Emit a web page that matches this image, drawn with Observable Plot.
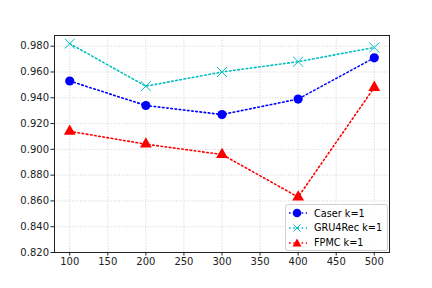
<!DOCTYPE html>
<html><head>
<meta charset="utf-8">
<script src="https://cdn.jsdelivr.net/npm/d3@7"></script>
<script src="https://cdn.jsdelivr.net/npm/@observablehq/plot@0.6"></script>
<style>
body{margin:0;background:#fff;font-family:"DejaVu Sans",sans-serif}
#wrap{position:relative;width:432px;height:288px}
#legend{position:absolute;left:285px;top:204px;width:101px;height:45px;border:1px solid #d0d0d0;border-radius:3px;background:rgba(255,255,255,0.85);font-size:9.7px;color:#000;white-space:nowrap}
.row{position:absolute;left:2px;height:14px;display:flex;align-items:center;white-space:nowrap}
.row svg{margin-right:6px;flex:none}
</style>
</head><body><div id="wrap"></div>
<script>
const xValues = [100, 200, 300, 400, 500];
const caser = [0.953, 0.934, 0.927, 0.939, 0.971];
const gru4rec = [0.982, 0.949, 0.960, 0.968, 0.979];
const fpmc = [0.914, 0.904, 0.896, 0.863, 0.948];
const seriesNames = ["Caser k=1", "GRU4Rec k=1", "FPMC k=1"];
const seriesColors = ["#0000ff", "#00bfbf", "#ff0000"];
const seriesSymbols = ["circle", "times", "triangle"];
const xTicks = [100, 150, 200, 250, 300, 350, 400, 450, 500];
const yTicks = [0.82, 0.84, 0.86, 0.88, 0.90, 0.92, 0.94, 0.96, 0.98];

const seriesValues = [caser, gru4rec, fpmc];
const data = [];
seriesValues.forEach((vals, i) => vals.forEach((v, j) => data.push({x: xValues[j], y: v, s: seriesNames[i]})));

const marks = [
  Plot.gridX(xTicks, {stroke: "#c8c8c8", strokeOpacity: 1, strokeDasharray: "1,1.6", strokeWidth: 0.8}),
  Plot.gridY(yTicks, {stroke: "#c8c8c8", strokeOpacity: 1, strokeDasharray: "1,1.6", strokeWidth: 0.8}),
  Plot.frame({stroke: "#222", strokeWidth: 1}),
  Plot.axisX({ticks: xTicks, tickSize: 3.5, tickPadding: 2, tickFormat: d => String(d), fontSize: 10, stroke: "#222", label: null}),
  Plot.axisY({ticks: yTicks, tickSize: 3.5, tickPadding: 2, tickFormat: d3.format(".3f"), fontSize: 10, stroke: "#222", label: null})
];
seriesNames.forEach((name, i) => {
  const d = data.filter(r => r.s === name);
  marks.push(Plot.line(d, {x: "x", y: "y", stroke: seriesColors[i], strokeWidth: 1.6, strokeDasharray: "1.6,2.6"}));
  if (seriesSymbols[i] === "times") {
    marks.push(Plot.dot(d, {x: "x", y: "y", symbol: "times", r: 4.6, stroke: seriesColors[i], strokeWidth: 1, fill: "none"}));
  } else if (seriesSymbols[i] === "triangle") {
    marks.push(Plot.dot(d, {x: "x", y: "y", symbol: "triangle", r: 4.4, fill: seriesColors[i], stroke: "none"}));
  } else {
    marks.push(Plot.dot(d, {x: "x", y: "y", symbol: "circle", r: 4.6, fill: seriesColors[i], stroke: "none"}));
  }
});

const chart = Plot.plot({
  width: 432, height: 288,
  marginLeft: 54, marginRight: 43, marginTop: 35, marginBottom: 36,
  x: {domain: [80, 520], label: null},
  y: {domain: [0.82, 0.9883], label: null},
  style: {fontFamily: "DejaVu Sans", fontSize: "10px", color: "#222", background: "#fff"},
  marks
});
const wrap = document.getElementById("wrap");
wrap.appendChild(chart);

const legend = document.createElement("div");
legend.id = "legend";
const icons = [
  c => `<circle cx="9" cy="7" r="4.3" fill="${c}"/>`,
  c => `<path d="M5.5,3.5L12.5,10.5M12.5,3.5L5.5,10.5" stroke="${c}" stroke-width="1" fill="none"/>`,
  c => `<path d="M9,2.5L13.5,10.5L4.5,10.5Z" fill="${c}"/>`
];
seriesNames.forEach((name, i) => {
  const row = document.createElement("div");
  row.className = "row";
  row.style.top = (1 + i * 14.8) + "px";
  row.innerHTML = `<svg width="20" height="14"><line x1="1" x2="19" y1="7" y2="7" stroke="${seriesColors[i]}" stroke-width="1.6" stroke-dasharray="1.6,2.6"/>${icons[i](seriesColors[i])}</svg><span>${name}</span>`;
  legend.appendChild(row);
});
wrap.appendChild(legend);
</script>
</body></html>
